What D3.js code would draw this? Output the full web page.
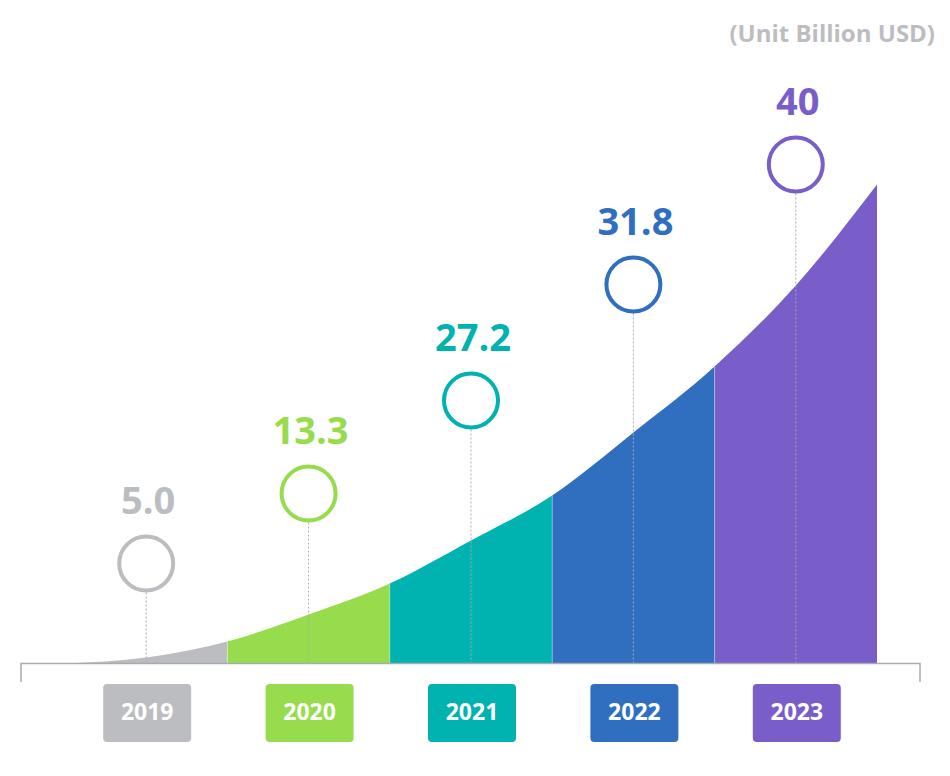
<!DOCTYPE html>
<html>
<head>
<meta charset="utf-8">
<script src="https://cdn.jsdelivr.net/npm/d3@7"></script>
<style>
  body { margin: 0; background: #fff; }
  svg { display: block; font-family: "Open Sans", "Noto Sans", sans-serif; }
</style>
</head>
<body>
<svg width="950" height="776"></svg>
<script>
// Data
const years = ["2019", "2020", "2021", "2022", "2023"];
const values = ["5.0", "13.3", "27.2", "31.8", "40"];
const colors = ["#bcbdc1", "#97dc4d", "#00b2b0", "#306fbf", "#795dc9"];
// height of the growth curve (chart units) at band edges and band centres
const curveSteps = [0, 0.5, 1, 1.5, 2, 2.5, 3, 3.5, 4, 4.5, 5];
const curveLevel = [0, 0.6, 2.2, 4.9, 8.0, 12.3, 16.8, 23.1, 29.7, 37.8, 47.9];
// height of each marker circle (chart units)
const markerLevel = [10.0, 17.0, 26.3, 37.9, 49.9];

let svg = d3.select("svg");
let baseY = 663.5;

// Scales
let x = d3.scaleLinear().domain([0, years.length]).range([65, 877]);
let y = d3.scaleLinear().domain([0, 50]).range([baseY, baseY - 500]);
let band = d3.scaleBand().domain(years).range([65, 877]);

// Unit label
svg.append("text")
    .attr("x", 935)
    .attr("y", 42)
    .attr("text-anchor", "end")
    .attr("fill", "#bcbdc1")
    .attr("font-size", 24)
    .attr("font-weight", "bold")
    .text("(Unit Billion USD)");

// Area clipped into coloured bands
let pts = curveSteps.map((s, i) => [s, curveLevel[i]]);
let area = d3.area()
    .x(d => x(d[0]))
    .y0(baseY)
    .y1(d => y(d[1]))
    .curve(d3.curveMonotoneX);

let defs = svg.append("defs");
years.forEach((yr, i) => {
  defs.append("clipPath")
      .attr("id", "clip" + i)
    .append("rect")
      .attr("x", band(yr))
      .attr("y", 0)
      .attr("width", band.bandwidth())
      .attr("height", baseY + 1);
});

svg.selectAll(".seg")
    .data(years)
    .enter().append("path")
    .attr("class", "seg")
    .attr("clip-path", (d, i) => "url(#clip" + i + ")")
    .attr("fill", (d, i) => colors[i])
    .attr("d", area(pts));

// thin separators between bands
svg.selectAll(".sep")
    .data(d3.range(1, years.length))
    .enter().append("line")
    .attr("x1", d => x(d)).attr("x2", d => x(d))
    .attr("y1", d => y(curveLevel[d * 2]))
    .attr("y2", baseY)
    .attr("stroke", "#fff")
    .attr("stroke-opacity", 0.35)
    .attr("stroke-width", 1);

// Axis line with end ticks
svg.append("path")
    .attr("d", "M21,682V" + baseY + "H920V682")
    .attr("fill", "none")
    .attr("stroke", "#a9aaae")
    .attr("stroke-width", 1.5);

// Markers
let cx = d => band(d) + band.bandwidth() / 2;
let marker = svg.selectAll(".marker")
    .data(years)
    .enter().append("g")
    .attr("class", "marker");

marker.append("line")
    .attr("x1", cx).attr("x2", cx)
    .attr("y1", (d, i) => y(markerLevel[i]) + 29)
    .attr("y2", baseY - 1)
    .attr("stroke", "#a9aaae")
    .attr("stroke-width", 1)
    .attr("stroke-dasharray", "2,2");

marker.append("circle")
    .attr("cx", cx)
    .attr("cy", (d, i) => y(markerLevel[i]))
    .attr("r", 27)
    .attr("fill", "#fff")
    .attr("stroke", (d, i) => colors[i])
    .attr("stroke-width", 4);

marker.append("text")
    .attr("x", d => cx(d) + 2)
    .attr("y", (d, i) => y(markerLevel[i]) - 50)
    .attr("text-anchor", "middle")
    .attr("fill", (d, i) => colors[i])
    .attr("font-size", 38)
    .attr("font-weight", "bold")
    .text((d, i) => values[i]);

// Year boxes
let box = svg.selectAll(".year")
    .data(years)
    .enter().append("g")
    .attr("class", "year");

box.append("rect")
    .attr("x", d => cx(d) - 43)
    .attr("y", 684)
    .attr("width", 88)
    .attr("height", 58)
    .attr("rx", 4)
    .attr("fill", (d, i) => colors[i]);

box.append("text")
    .attr("x", d => cx(d) + 1)
    .attr("y", 720)
    .attr("text-anchor", "middle")
    .attr("fill", "#fff")
    .attr("font-size", 23)
    .attr("font-weight", "bold")
    .text(d => d);
</script>
</body>
</html>
